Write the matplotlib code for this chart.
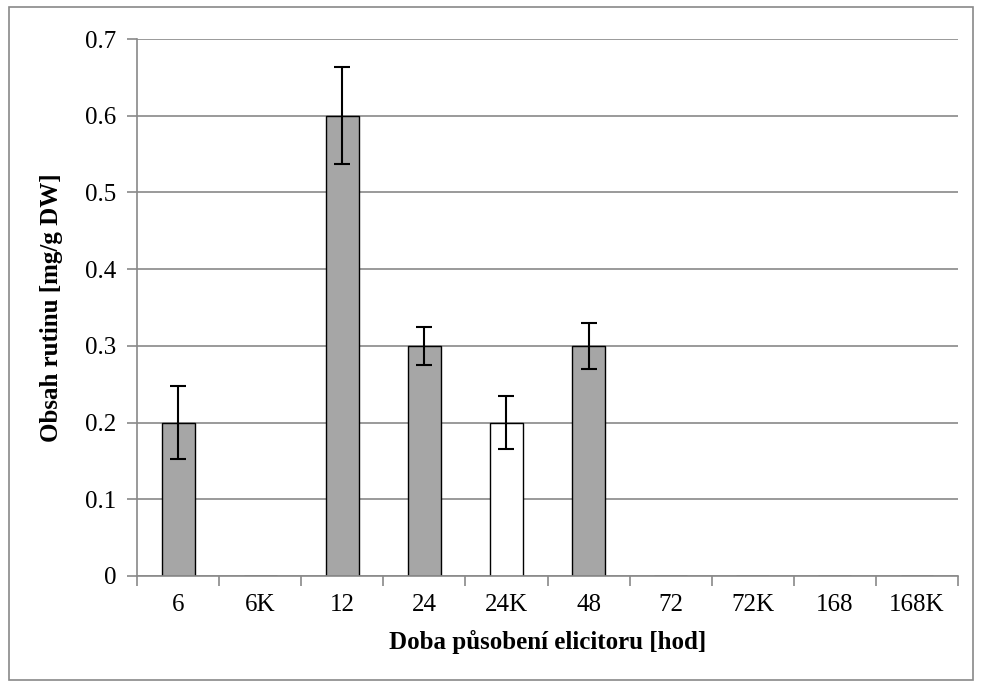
import matplotlib.pyplot as plt
from matplotlib.patches import Rectangle
import numpy as np

plt.rcParams['font.family'] = ['Liberation Serif', 'DejaVu Serif']

# data
categories = ['6', '6K', '12', '24', '24K', '48', '72', '72K', '168', '168K']
values = [0.2, 0.0, 0.6, 0.3, 0.2, 0.3, 0.0, 0.0, 0.0, 0.0]
errors = [0.048, 0.0, 0.063, 0.025, 0.034, 0.030, 0.0, 0.0, 0.0, 0.0]
colors = ['#a6a6a6', '#a6a6a6', '#a6a6a6', '#a6a6a6', 'white',
          '#a6a6a6', '#a6a6a6', '#a6a6a6', '#a6a6a6', '#a6a6a6']

fig = plt.figure(figsize=(9.81, 6.88), dpi=100)
ax = fig.add_axes([0.1397, 0.1628, 0.8369, 0.7805])

x = np.arange(len(categories))
ax.set_axisbelow(True)
ax.yaxis.grid(True, color='#898989', linewidth=1.2)
ax.bar(x, values, width=0.4, color=colors, edgecolor='black', linewidth=1.0, zorder=2)
err_x = [i for i in x if errors[i] > 0]
ax.errorbar(err_x, [values[i] for i in err_x], yerr=[errors[i] for i in err_x],
            fmt='none', ecolor='black', elinewidth=1.5, capsize=6, capthick=1.5, zorder=3)

ax.set_xlim(-0.5, len(categories) - 0.5)
ax.set_ylim(0, 0.7)
ax.set_yticks(np.arange(0, 0.71, 0.1))
ax.set_yticklabels(['0'] + ['%.1f' % v for v in np.arange(0.1, 0.71, 0.1)])
ax.set_xticks(x)
ax.set_xticklabels(categories)
ax.set_xticks(np.arange(-0.5, len(categories)), minor=True)
ax.tick_params(axis='x', which='major', length=0, labelsize=18, pad=13)
ax.tick_params(axis='x', which='minor', length=7, color='#898989', width=1.2)
ax.tick_params(axis='y', length=7, color='#898989', width=1.2, labelsize=18, pad=8)

for s in ['top', 'right']:
    ax.spines[s].set_visible(False)
for s in ['left', 'bottom']:
    ax.spines[s].set_color('#898989')
    ax.spines[s].set_linewidth(1.2)

ax.set_xlabel('Doba působení elicitoru [hod]', fontsize=18, fontweight='bold', labelpad=10)
ax.set_ylabel('Obsah rutinu [mg/g DW]', fontsize=18, fontweight='bold', labelpad=16)

fig.patches.append(Rectangle((9 / 981, 8 / 688), 964 / 981, 673 / 688,
                             transform=fig.transFigure, fill=False,
                             edgecolor='#898989', linewidth=1.2))

fig.savefig('out.png', dpi=100)
